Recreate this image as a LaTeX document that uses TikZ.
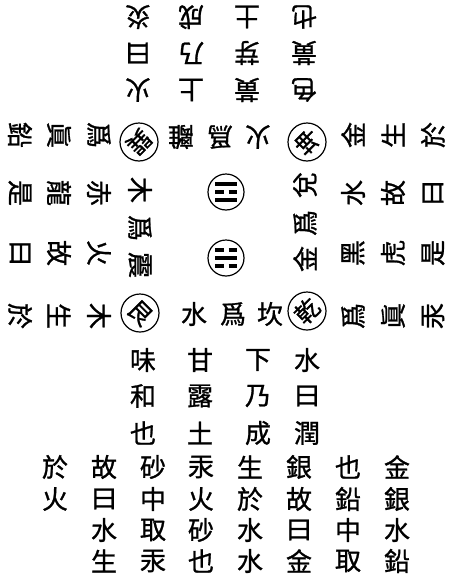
\documentclass[tikz,border=0pt]{standalone}
\usepackage{fontspec}
\newfontfamily\cjk[FakeBold=1]{Noto Sans CJK TC}
\begin{document}
\begin{tikzpicture}[x=1pt,y=-1pt,
  ch/.style={inner sep=0pt, font=\cjk\fontsize{26}{26}\selectfont},
  cch/.style={inner sep=0pt, font=\cjk\fontsize{24}{24}\selectfont},
  ring/.style={circle, draw, line width=1.2pt, minimum size=38pt, inner sep=0pt},
  tri/.style={circle, draw, line width=1.2pt, minimum size=36pt, inner sep=0pt},
  bar/.style={line width=3.5pt}]
\useasboundingbox[fill=white] (0,0) rectangle (455,581);
% bottom block
\foreach \x/\a/\b/\c/\d [count=\i] in {397/金/銀/水/鉛, 348/也/鉛/中/取, 299/銀/故/曰/金, 250/生/於/水/水, 201/汞/火/砂/也, 153/砂/中/取/汞, 104/故/曰/水/生}{
  \node[ch] (b\i a) at (\x,467) {\a};
  \node[ch] (b\i b) at (\x,499) {\b};
  \node[ch] (b\i c) at (\x,530) {\c};
  \node[ch] (b\i d) at (\x,561) {\d};
}
\node[ch] (b8a) at (55,467) {於};
\node[ch] (b8b) at (55,499) {火};
% bottom middle
\foreach \x/\a/\b/\c [count=\i] in {307/水/曰/潤, 258/下/乃/成, 200/甘/露/土, 143/味/和/也}{
  \node[ch] (m\i a) at (\x,360) {\a};
  \node[ch] (m\i b) at (\x,396) {\b};
  \node[ch] (m\i c) at (\x,433) {\c};
}
% top block (upside down)
\foreach \x/\a/\b/\c [count=\i] in {138/火/曰/炎, 191/上/乃/成, 247/黃/芽/土, 304/色/黃/也}{
  \node[ch,rotate=180] (t\i a) at (\x,90) {\a};
  \node[ch,rotate=180] (t\i b) at (\x,53) {\b};
  \node[ch,rotate=180] (t\i c) at (\x,17) {\c};
}
% left block
\foreach \y/\a/\b/\c [count=\i] in {316/木/生/於, 253/火/故/曰, 193/赤/龍/是, 135/爲/眞/鉛}{
  \node[ch,rotate=-90] (l\i a) at (99,\y) {\a};
  \node[ch,rotate=-90] (l\i b) at (59,\y) {\b};
  \node[ch,rotate=-90] (l\i c) at (20,\y) {\c};
}
% right block
\foreach \y/\a/\b/\c [count=\i] in {135/金/生/於, 193/水/故/曰, 253/黑/虎/是, 316/爲/眞/汞}{
  \node[ch,rotate=90] (r\i a) at (353,\y) {\a};
  \node[ch,rotate=90] (r\i b) at (393,\y) {\b};
  \node[ch,rotate=90] (r\i c) at (433,\y) {\c};
}
% headers
\node[ch,rotate=180] (ht1) at (181,137) {離};
\node[ch,rotate=180] (ht2) at (220,137) {爲};
\node[ch,rotate=180] (ht3) at (258,137) {火};
\node[ch] (hb1) at (194,314) {水};
\node[ch] (hb2) at (233,314) {爲};
\node[ch] (hb3) at (270,314) {坎};
\node[ch,rotate=-90] (hl1) at (140,190) {木};
\node[ch,rotate=-90] (hl2) at (140,228) {爲};
\node[ch,rotate=-90] (hl3) at (140,265) {震};
\node[ch,rotate=90] (hr1) at (305,185) {兌};
\node[ch,rotate=90] (hr2) at (305,223) {爲};
\node[ch,rotate=90] (hr3) at (305,259) {金};
% corner circles
\node[ring] (cul) at (139,142) {};
\node[ring] (cur) at (307,142) {};
\node[ring] (cll) at (140,313) {};
\node[ring] (clr) at (307,311) {};
\node[cch,rotate=-135] (culc) at (cul.center) {巽};
\node[cch,rotate=135] (curc) at (cur.center) {坤};
\node[cch,rotate=-45] (cllc) at (cll.center) {艮};
\node[cch,rotate=45] (clrc) at (clr.center) {乾};
% trigram circles
\node[tri] (li) at (226,192) {};
\node[tri] (kan) at (226,258) {};
% li: solid, broken, solid
\draw[bar] ([shift={(-11,-8)}]li.center) -- ++(22,0);
\draw[bar] ([shift={(-11,0)}]li.center) -- ++(8.5,0);
\draw[bar] ([shift={(2.5,0)}]li.center) -- ++(8.5,0);
\draw[bar] ([shift={(-11,8)}]li.center) -- ++(22,0);
% kan: broken, solid, broken
\draw[bar] ([shift={(-11,-8)}]kan.center) -- ++(8.5,0);
\draw[bar] ([shift={(2.5,-8)}]kan.center) -- ++(8.5,0);
\draw[bar] ([shift={(-11,0)}]kan.center) -- ++(22,0);
\draw[bar] ([shift={(-11,8)}]kan.center) -- ++(8.5,0);
\draw[bar] ([shift={(2.5,8)}]kan.center) -- ++(8.5,0);
\end{tikzpicture}
\end{document}
